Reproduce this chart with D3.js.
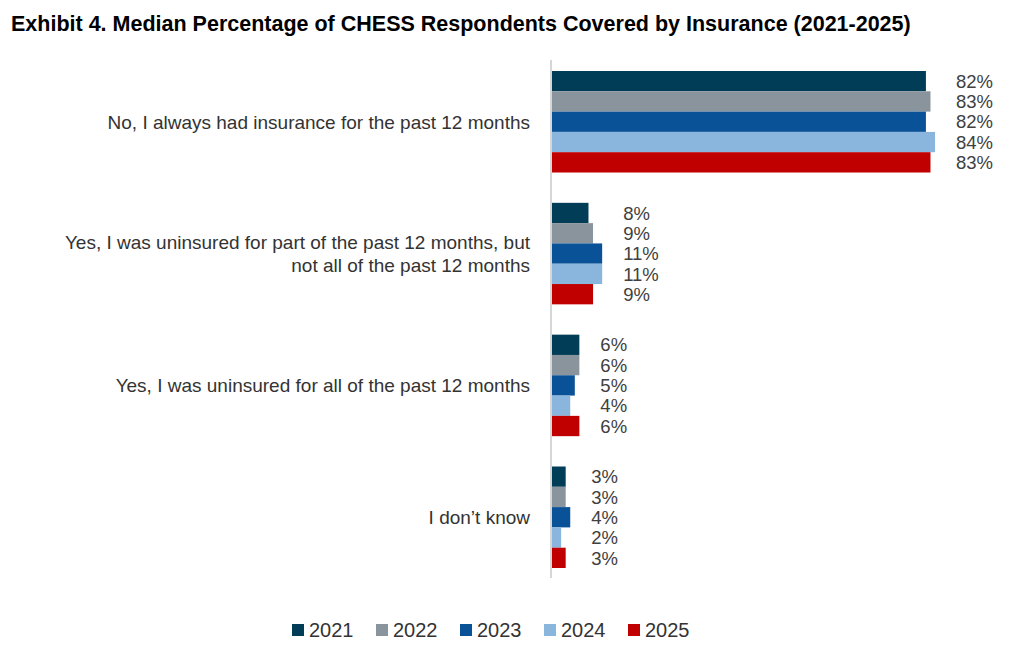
<!DOCTYPE html>
<html><head><meta charset="utf-8">
<script src="https://cdn.jsdelivr.net/npm/d3@7"></script>
<style>body{margin:0;background:#fff}svg{display:block}</style>
</head><body>
<svg id="c" width="1018" height="652"></svg>
<script>
const categories = [
  ["No, I always had insurance for the past 12 months"],
  ["Yes, I was uninsured for part of the past 12 months, but", "not all of the past 12 months"],
  ["Yes, I was uninsured for all of the past 12 months"],
  ["I don\u2019t know"]
];
const years = ["2021","2022","2023","2024","2025"];
const colors = ["#023d57","#8a949c","#0a5297","#8ab6de","#c00000"];
const v2021 = [82, 8, 6, 3];
const v2022 = [83, 9, 6, 3];
const v2023 = [82, 11, 5, 4];
const v2024 = [84, 11, 4, 2];
const v2025 = [83, 9, 6, 3];
const series = [v2021, v2022, v2023, v2024, v2025];

const svg = d3.select("#c");
const font = "'Liberation Sans', Arial, sans-serif";

svg.append("text").attr("x", 11).attr("y", 31)
  .attr("font-family", font).attr("font-weight", "bold").attr("font-size", 21.5)
  .attr("fill", "#000")
  .text("Exhibit 4. Median Percentage of CHESS Respondents Covered by Insurance (2021-2025)");

const x = d3.scaleLinear().domain([0, 100]).range([552, 1008]);
const y0 = d3.scaleBand().domain(d3.range(categories.length)).range([71, 568]).paddingInner(0.23).paddingOuter(0);
const y1 = d3.scaleBand().domain(d3.range(years.length)).range([0, y0.bandwidth()]);

svg.append("line").attr("x1", 551).attr("x2", 551).attr("y1", 60).attr("y2", 578)
  .attr("stroke", "#c8c8c8").attr("stroke-width", 1.5);

categories.forEach((lines, i) => {
  const g = svg.append("g").attr("transform", `translate(0,${y0(i)})`);
  const vals = series.map(s => s[i]);
  const maxV = d3.max(vals);
  vals.forEach((v, j) => {
    g.append("rect").attr("x", x(0)).attr("y", y1(j)).attr("width", x(v) - x(0)).attr("height", y1.bandwidth())
      .attr("fill", colors[j]);
    g.append("text").attr("x", x(maxV) + 21).attr("y", y1(j) + y1.bandwidth() / 2)
      .attr("dy", "0.36em").attr("font-family", font).attr("font-size", 18.5).attr("fill", "#404040")
      .text(v + "%");
  });
  const cy = y0(i) + y0.bandwidth() / 2;
  const lh = 23;
  lines.forEach((t, k) => {
    svg.append("text").attr("x", 530).attr("y", cy + (k - (lines.length - 1) / 2) * lh)
      .attr("dy", "0.36em").attr("text-anchor", "end")
      .attr("font-family", font).attr("font-size", 19).attr("fill", "#333")
      .text(t);
  });
});

const lg = svg.append("g").attr("transform", "translate(292,630)");
years.forEach((yr, j) => {
  const gx = j * 84;
  lg.append("rect").attr("x", gx).attr("y", -6).attr("width", 12).attr("height", 12).attr("fill", colors[j]);
  lg.append("text").attr("x", gx + 17).attr("y", 0).attr("dy", "0.36em")
    .attr("font-family", font).attr("font-size", 20).attr("fill", "#333").text(yr);
});
</script>
</body></html>
